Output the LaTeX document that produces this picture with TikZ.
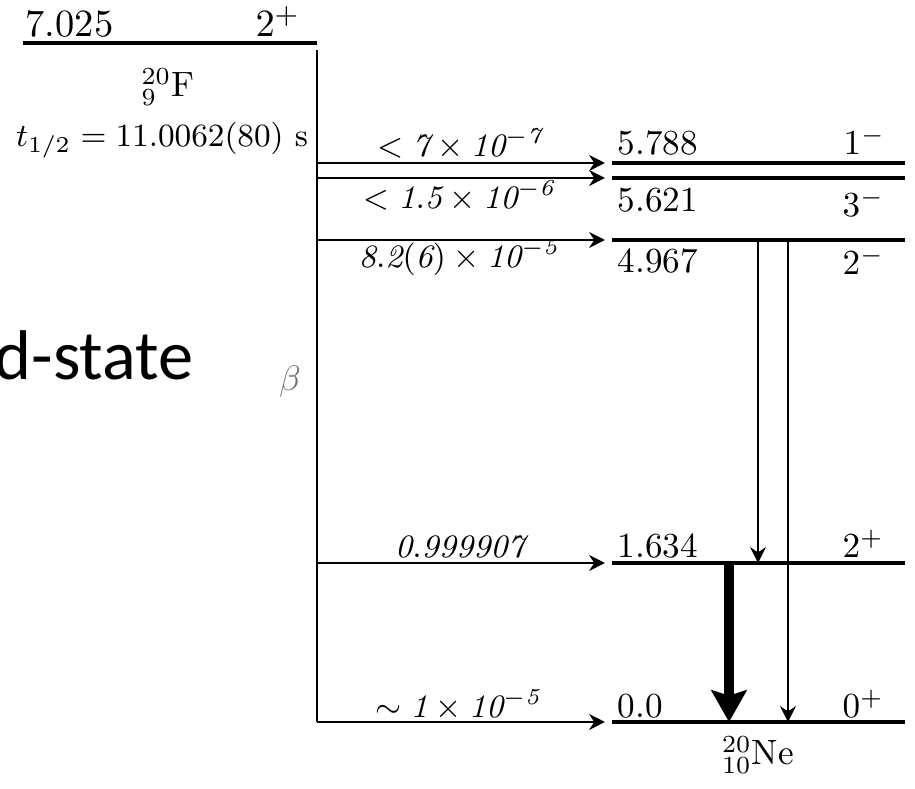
\RequirePackage{fix-cm}
\documentclass[tikz,border=0pt]{standalone}
\usepackage{fontspec}
\newfontfamily\slidefont{Carlito}
\usetikzlibrary{arrows.meta}
\tikzset{
  level/.style={line width=0.9pt},
  feed/.style={line width=0.6pt, -{Stealth[length=4.5pt,width=4.5pt]}, shorten >=2pt},
  gline/.style={line width=0.4pt, -{Stealth[length=4.5pt,width=4.5pt]}},
  gbig/.style={line width=3pt, -{Stealth[length=9pt,width=10pt,inset=1.5pt]}},
  energy/.style={anchor=base west, inner sep=0pt},
  ratio/.style={anchor=base, inner sep=0pt, font=\fontsize{9.3}{11}\selectfont},
}
\begin{document}
\begin{tikzpicture}[x=0.01cm,y=-0.01cm]
\useasboundingbox (0,0) rectangle (915,789);
\clip (0,0) rectangle (915,789);
% slide text behind the scheme
\node[anchor=base west, inner sep=0pt, font=\slidefont\fontsize{20}{24}\selectfont] (slide) at (-6,380) {d-state};
% parent 20F
\draw[level] (23,43) -- (317,43);
\node[energy, font=\fontsize{10.95}{13}\selectfont] (e7025) at (25,37) {7.025};
\node[energy, font=\fontsize{10.95}{13}\selectfont] (j7025) at (255,37) {$2^+$};
\node[anchor=base, inner sep=0pt] (parent) at (168,97) {${}^{20}_{9}\mathrm{F}$};
\node[anchor=base, inner sep=0pt, font=\fontsize{9.2}{11}\selectfont] (halflife) at (162,147) {$t_{1/2} = 11.0062(80)~\mathrm{s}$};
\coordinate (btop) at (317,50);
\coordinate (bbot) at (317,722);
\draw[line width=0.6pt] (btop) -- (bbot);
\node[text=black!55] (beta) at (290,382) {$\beta$};
% daughter levels 20Ne
\coordinate (l5788) at (612,163); \coordinate (r5788) at (905,163);
\coordinate (l5621) at (612,178); \coordinate (r5621) at (905,178);
\coordinate (l4967) at (612,240); \coordinate (r4967) at (905,240);
\coordinate (l1634) at (612,563); \coordinate (r1634) at (905,563);
\coordinate (l0) at (612,722);    \coordinate (r0) at (905,722);
\draw[level] (l5788) -- (r5788);
\draw[level] (l5621) -- (r5621);
\draw[level] (l4967) -- (r4967);
\draw[level] (l1634) -- (r1634);
\draw[level] (l0) -- (r0);
\node[energy] (e5788) at (617,155) {5.788};
\node[energy] (j5788) at (843,155) {$1^-$};
\node[energy] (e5621) at (617,212) {5.621};
\node[energy] (j5621) at (842,217) {$3^-$};
\node[energy] (e4967) at (617,273) {4.967};
\node[energy] (j4967) at (842,275) {$2^-$};
\node[energy] (e1634) at (617,558) {1.634};
\node[energy] (j1634) at (842,558) {$2^+$};
\node[energy] (e0) at (617,718) {0.0};
\node[energy] (j0) at (842,718) {$0^+$};
\node[anchor=base, inner sep=0pt] (daughter) at (758,765) {${}^{20}_{10}\mathrm{Ne}$};
% beta branches
\coordinate (b5788) at (317,163);
\coordinate (b5621) at (317,178);
\coordinate (b4967) at (317,240);
\coordinate (b1634) at (317,563);
\coordinate (b0) at (317,722);
\draw[feed] (b5788) -- (l5788);
\draw[feed] (b5621) -- (l5621);
\draw[feed] (b4967) -- (l4967);
\draw[feed] (b1634) -- (l1634);
\draw[feed] (b0) -- (l0);
\node[ratio] (br5788) at (460,157) {$<\mathit{7}\times\mathit{10}^{\mathit{-7}}$};
\node[ratio] (br5621) at (459,209) {$<\mathit{1.5}\times\mathit{10}^{\mathit{-6}}$};
\node[ratio] (br4967) at (459,268) {$\mathit{8.2(6)}\times\mathit{10}^{\mathit{-5}}$};
\node[ratio] (br1634) at (460,558) {$\mathit{0.999907}$};
\node[ratio] (br0) at (458,718) {$\sim\mathit{1}\times\mathit{10}^{\mathit{-5}}$};
% gamma transitions
\coordinate (ga) at (758,240); \coordinate (gaend) at (758,563);
\coordinate (gb) at (788,240); \coordinate (gbend) at (788,722);
\coordinate (gc) at (729,563); \coordinate (gcend) at (729,722);
\draw[gline] (ga) -- (gaend);
\draw[gline] (gb) -- (gbend);
\draw[gbig] (gc) -- (gcend);
\end{tikzpicture}
\end{document}
